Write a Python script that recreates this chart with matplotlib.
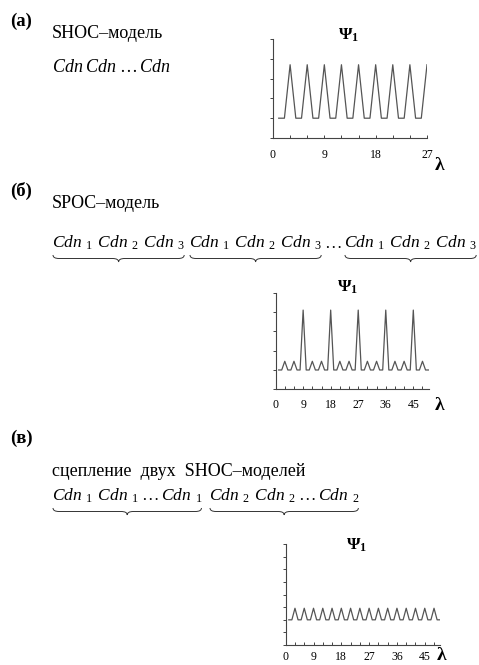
import numpy as np
import matplotlib
matplotlib.use("Agg")
import matplotlib.pyplot as plt
from matplotlib.path import Path
from matplotlib.patches import PathPatch

plt.rcParams['font.family'] = ['Liberation Serif', 'DejaVu Serif']
plt.rcParams['mathtext.fontset'] = 'custom'
plt.rcParams['mathtext.rm'] = 'Liberation Serif'
plt.rcParams['mathtext.it'] = 'Liberation Serif:italic'
plt.rcParams['mathtext.bf'] = 'Liberation Serif:bold'

# --- data ---
# (а) SHOC model, lambda = 1..27
lam_a = list(range(1, 28))
psi_a = [1, 1, 3.7, 1, 1, 3.7, 1, 1, 3.7, 1, 1, 3.7, 1, 1, 3.7,
         1, 1, 3.7, 1, 1, 3.7, 1, 1, 3.7, 1, 1, 3.7]
# (б) SPOC model, lambda = 1..50
lam_b = list(range(1, 51))
psi_b = [1, 1, 1.45, 1, 1, 1.45, 1, 1, 4.1, 1,
         1, 1.45, 1, 1, 1.45, 1, 1, 4.1, 1, 1,
         1.45, 1, 1, 1.45, 1, 1, 4.1, 1, 1, 1.45,
         1, 1, 1.45, 1, 1, 4.1, 1, 1, 1.45, 1,
         1, 1.45, 1, 1, 4.1, 1, 1, 1.45, 1, 1]
# (в) two coupled SHOC models, lambda = 1..50
lam_c = list(range(1, 51))
psi_c = [1, 1, 1.46, 1, 1, 1.46, 1, 1, 1.46, 1,
         1, 1.46, 1, 1, 1.46, 1, 1, 1.46, 1, 1,
         1.46, 1, 1, 1.46, 1, 1, 1.46, 1, 1, 1.46,
         1, 1, 1.46, 1, 1, 1.46, 1, 1, 1.46, 1,
         1, 1.46, 1, 1, 1.46, 1, 1, 1.46, 1, 1]

xticks_a = [0, 3, 6, 9, 12, 15, 18, 21, 24, 27]
xticks_bc = [0, 3, 6, 9, 12, 15, 18, 21, 24, 27, 30, 33, 36, 39, 42, 45, 48]
xlabels_a = ['0', '', '', '9', '', '', '18', '', '', '27']
xlabels_bc = ['0', '', '', '9', '', '', '18', '', '', '27', '', '', '36', '', '', '45', '']

W, H = 479, 665
fig = plt.figure(figsize=(W / 100, H / 100), dpi=100)


def fx(px):
    return px / W


def fy(py):
    return 1 - py / H


def small_plot(rect, lam, psi, xlim, ylim, yticks, xticks, xlabels, pad):
    ax = fig.add_axes([fx(rect[0]), fy(rect[1]), rect[2] / W, rect[3] / H])
    ax.plot(lam, psi, color='#555555', lw=0.9)
    ax.set_xlim(*xlim)
    ax.set_ylim(*ylim)
    ax.set_xticks(xticks)
    ax.set_xticklabels(xlabels)
    ax.set_yticks(yticks)
    ax.set_yticklabels([])
    for s in ['top', 'right']:
        ax.spines[s].set_visible(False)
    for s in ['left', 'bottom']:
        ax.spines[s].set_color('#444444')
        ax.spines[s].set_linewidth(0.8)
    ax.tick_params(axis='x', direction='in', length=2.5, width=0.7,
                   color='#444444', labelsize=8.5, pad=pad)
    ax.tick_params(axis='y', direction='out', length=2.5, width=0.7,
                   color='#444444')
    ax.patch.set_alpha(0)
    return ax


# rect = (left px, bottom px, width px, height px)
small_plot((273, 138, 154, 99), lam_a, psi_a, (0, 27), (0, 5),
           [0, 1, 2, 3, 4, 5], xticks_a, xlabels_a, 8)
small_plot((275.6, 389.3, 153, 96.6), lam_b, psi_b, (0, 50), (0, 5),
           [0, 1, 2, 3, 4, 5], xticks_bc, xlabels_bc, 7)
small_plot((285.7, 645, 154.5, 100.7), lam_c, psi_c, (0, 50), (0, 4),
           [0, 0.5, 1, 1.5, 2, 2.5, 3, 3.5, 4], xticks_bc, xlabels_bc, 4.5)

# Psi_1 titles and lambda labels
for x, y in [(349, 35), (348, 287), (357, 545)]:
    fig.text(fx(x), fy(y), r'$\mathbf{\Psi}_{\mathbf{1}}$', fontsize=12.5,
             ha='center', va='center')
for x, y in [(440, 166), (440, 406), (442, 656)]:
    fig.text(fx(x), fy(y), 'λ', fontsize=14, fontweight='bold',
             ha='center', va='center')

# panel labels and captions (positions are baselines)
fs = 13
fig.text(fx(10), fy(26), '(а)', fontsize=13.5, fontweight='bold', va='baseline')
fig.text(fx(52), fy(38), 'SHOC–модель', fontsize=fs, va='baseline')
fig.text(fx(52), fy(72), r'$Cdn\;Cdn\;\ldots\,Cdn$', fontsize=fs, va='baseline')

fig.text(fx(10), fy(196), '(б)', fontsize=13.5, fontweight='bold', va='baseline')
fig.text(fx(52), fy(208), 'SPOC–модель', fontsize=fs, va='baseline')

fig.text(fx(10), fy(443), '(в)', fontsize=13.5, fontweight='bold', va='baseline')
fig.text(fx(52), fy(476), 'сцепление  двух  SHOC–моделей', fontsize=fs, va='baseline')

fg = 12.5
group123 = r'$Cdn_{\;\;1}\;\,Cdn_{\;\;2}\;\,Cdn_{\;\;3}$'
grp_b = []
for x in [52, 189, 344]:
    grp_b.append(fig.text(fx(x), fy(248), group123, fontsize=fg, va='baseline'))
fig.text(fx(324), fy(248), r'$\ldots$', fontsize=fg, va='baseline')

grp_c = [fig.text(fx(52), fy(501), r'$Cdn_{\;\;1}\;\,Cdn_{\;\;1}\;\ldots\,Cdn_{\;\;1}$',
                  fontsize=fg, va='baseline'),
         fig.text(fx(209), fy(501), r'$Cdn_{\;\;2}\;\,Cdn_{\;\;2}\;\ldots\,Cdn_{\;\;2}$',
                  fontsize=fg, va='baseline')]


def underbrace(x0, x1, ytop, h):
    # curly brace under a text span, figure pixel coordinates
    xm = (x0 + x1) / 2
    q = min(6, (x1 - x0) / 8)
    yh = ytop - h / 2
    yb = ytop - h
    verts = [(x0, ytop), (x0, yh), (x0 + q, yh),
             (xm - q, yh), (xm, yh), (xm, yb),
             (xm, yh), (xm + q, yh),
             (x1 - q, yh), (x1, yh), (x1, ytop)]
    codes = [Path.MOVETO, Path.CURVE3, Path.CURVE3,
             Path.LINETO, Path.CURVE3, Path.CURVE3,
             Path.CURVE3, Path.CURVE3,
             Path.LINETO, Path.CURVE3, Path.CURVE3]
    verts = [(fx(vx), vy / H) for vx, vy in verts]
    fig.patches.append(PathPatch(Path(verts, codes), transform=fig.transFigure,
                                 fill=False, lw=0.7, color='#333333'))


fig.canvas.draw()
rend = fig.canvas.get_renderer()
for t, ytop in [(g, H - 255) for g in grp_b] + [(g, H - 508) for g in grp_c]:
    bb = t.get_window_extent(rend)
    underbrace(bb.x0 + 1, bb.x1 - 1, ytop, 7)

fig.savefig('out.png', dpi=100)
